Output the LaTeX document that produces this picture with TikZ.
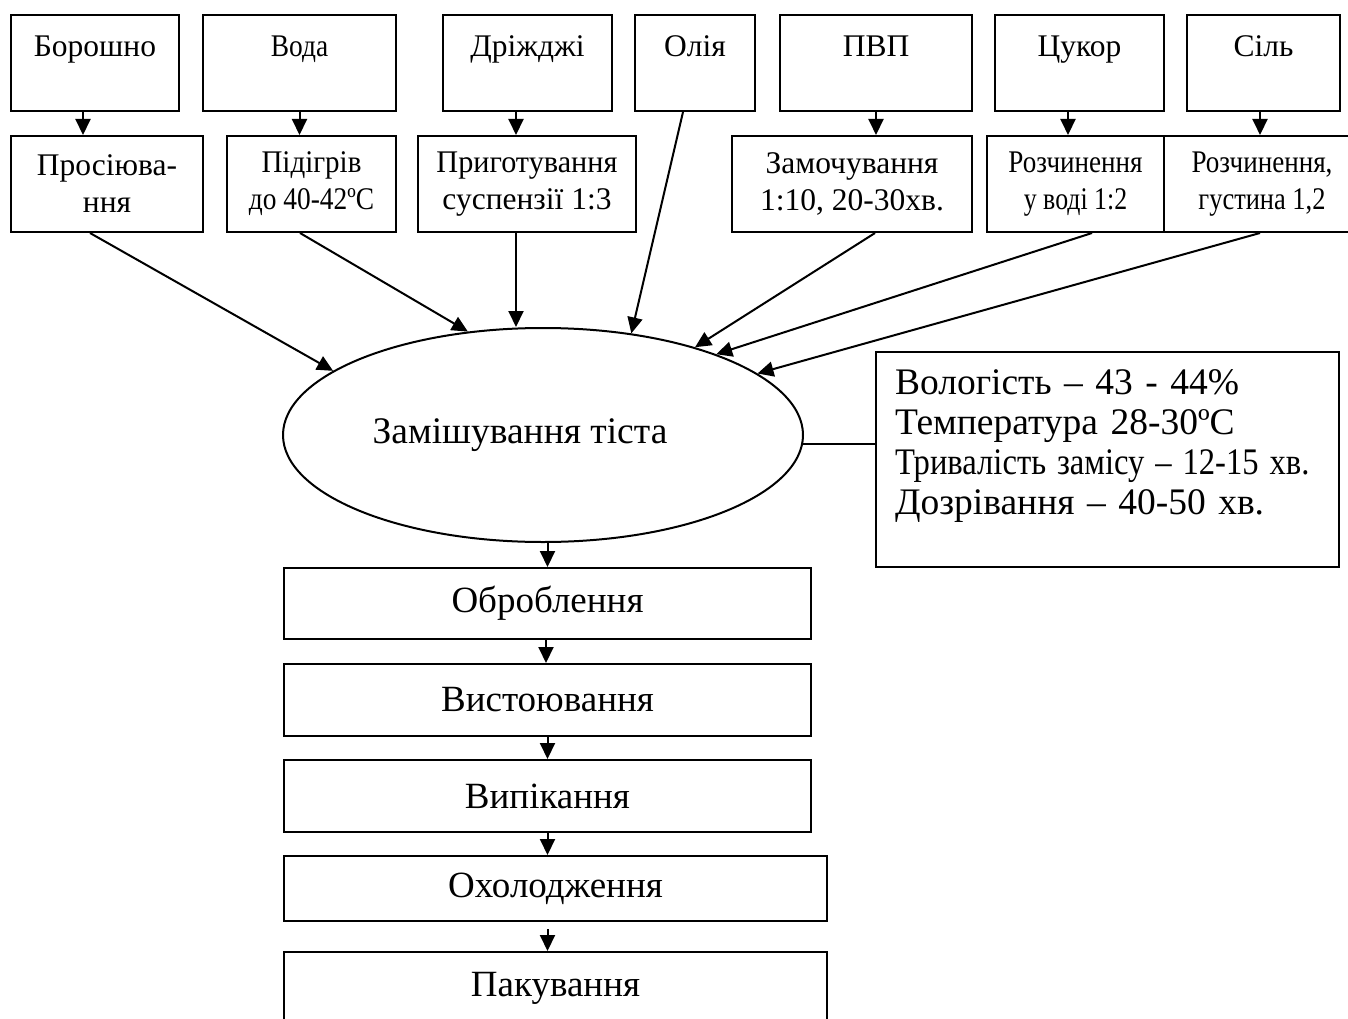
\documentclass[tikz,border=0pt]{standalone}
\usepackage{fontspec}
\setmainfont{Liberation Serif}
\usepackage{graphicx}
\usetikzlibrary{arrows.meta,shapes.geometric}
\newcommand{\cx}[2]{\scalebox{#1}[1]{#2}}
\begin{document}
\begin{tikzpicture}[x=1pt,y=-1pt,
  topbox/.style={draw, line width=2pt, minimum height=96pt, inner xsep=2pt, inner ysep=20pt,
    text height=22pt, text depth=34pt, font=\fontsize{31.5}{37}\selectfont},
  midbox/.style={draw, line width=2pt, minimum height=96pt, inner sep=2pt, align=center,
    font=\fontsize{31.5}{37}\selectfont},
  flowbox/.style={draw, line width=2pt, inner sep=2pt, font=\fontsize{37}{42}\selectfont},
  arr/.style={line width=2pt, -{Triangle[length=16pt,width=15pt]}},
  plain/.style={line width=2pt}]
\useasboundingbox (0,0) rectangle (1348,1019);
% top row
\node[topbox, minimum width=168pt] (bor) at (95,63) {Борошно};
\node[topbox, minimum width=193pt] (voda) at (299.5,63) {\cx{0.87}{Вода}};
\node[topbox, minimum width=169pt] (dri) at (527.5,63) {Дріжджі};
\node[topbox, minimum width=120pt] (oli) at (695,63) {Олія};
\node[topbox, minimum width=192pt] (pvp) at (876,63) {ПВП};
\node[topbox, minimum width=169pt] (cuk) at (1079.5,63) {Цукор};
\node[topbox, minimum width=153pt] (sil) at (1263.5,63) {Сіль};
% second row
\node[midbox, minimum width=192pt] (pros) at (107,184) {Просіюва-\\ння};
\node[midbox, minimum width=169pt] (pid) at (311.5,184) {\cx{0.92}{Підігрів}\\\cx{0.87}{до 40-42ºC}};
\node[midbox, minimum width=218pt] (prig) at (527,184) {\cx{0.96}{Приготування}\\суспензії 1:3};
\node[midbox, minimum width=240pt] (zam) at (852,184) {Замочування\\1:10, 20-30хв.};
\node[midbox, minimum width=177pt] (roz1) at (1075.5,184) {\cx{0.86}{Розчинення}\\\cx{0.82}{у воді 1:2}};
\node[midbox, minimum width=196pt] (roz2) at (1262,184) {\cx{0.86}{Розчинення,}\\\cx{0.84}{густина 1,2}};
% ellipse
\node[draw, ellipse, line width=2pt, minimum width=520pt, minimum height=214pt, inner sep=0pt,
  font=\fontsize{37.5}{42}\selectfont] (ell) at (543,435) {Замішування тіста\hspace*{46pt}};
% info box
\node[draw, line width=2pt, minimum width=463pt, minimum height=215pt, inner xsep=19pt, inner ysep=0pt,
  text width=425pt, align=left, font=\fontsize{37.5}{40}\selectfont] (info) at (1107.5,459.5)
  {Вологість – 43 - 44\%\\Температура 28-30ºC\\\cx{0.87}{Тривалість замісу – 12-15 хв.}\\Дозрівання – 40-50 хв.\rule[-34pt]{0pt}{34pt}};
% flow boxes
\node[flowbox, minimum width=527pt, minimum height=71pt] (obr) at (547.5,603.5) {Оброблення};
\node[flowbox, minimum width=527pt, minimum height=72pt] (vis) at (547.5,700) {Вистоювання};
\node[flowbox, minimum width=527pt, minimum height=72pt] (vyp) at (547.5,796) {Випікання};
\node[flowbox, minimum width=543pt, minimum height=65pt] (oxo) at (555.5,888.5) {Охолодження};
\node[flowbox, minimum width=543pt, minimum height=72pt] (pak) at (555.5,988) {Пакування};
% top to second row
\draw[arr] ([xshift=-12pt]bor.south) -- ([xshift=-12pt]bor.south |- pros.north);
\draw[arr] (voda.south) -- (voda.south |- pid.north);
\draw[arr] ([xshift=-11.5pt]dri.south) -- ([xshift=-11.5pt]dri.south |- prig.north);
\draw[arr] (pvp.south) -- (pvp.south |- zam.north);
\draw[arr] ([xshift=-11.5pt]cuk.south) -- ([xshift=-11.5pt]cuk.south |- roz1.north);
\draw[arr] ([xshift=-3.5pt]sil.south) -- ([xshift=-3.5pt]sil.south |- roz2.north);
% into ellipse
\draw[arr] ([xshift=-17pt]pros.south) -- (ell.163.5);
\draw[arr] ([xshift=-11.5pt]pid.south) -- (ell.126.5);
\draw[arr] ([xshift=-11pt]prig.south) -- ([xshift=-11pt]prig.south |- ell.north);
\draw[arr] ([xshift=-12pt]oli.south) -- (ell.49.6);
\draw[arr] ([xshift=23pt]zam.south) -- (ell.30.6);
\draw[arr] ([xshift=16.5pt]roz1.south) -- (ell.25.5);
\draw[arr] ([xshift=-2pt]roz2.south) -- (ell.16.9);
% ellipse to info
\draw[plain] (ell.-2.9) -- (ell.-2.9 -| info.west);
% chain
\draw[arr] (ell.south -| obr.north) -- (obr.north);
\draw[arr] ([xshift=-1.5pt]obr.south) -- ([xshift=-1.5pt]vis.north);
\draw[arr] (vis.south) -- (vyp.north);
\draw[arr] (vyp.south) -- (vyp.south |- oxo.north);
\draw[arr] ([yshift=-7pt]vyp.south |- oxo.south) -- (vyp.south |- pak.north);
\end{tikzpicture}
\end{document}
